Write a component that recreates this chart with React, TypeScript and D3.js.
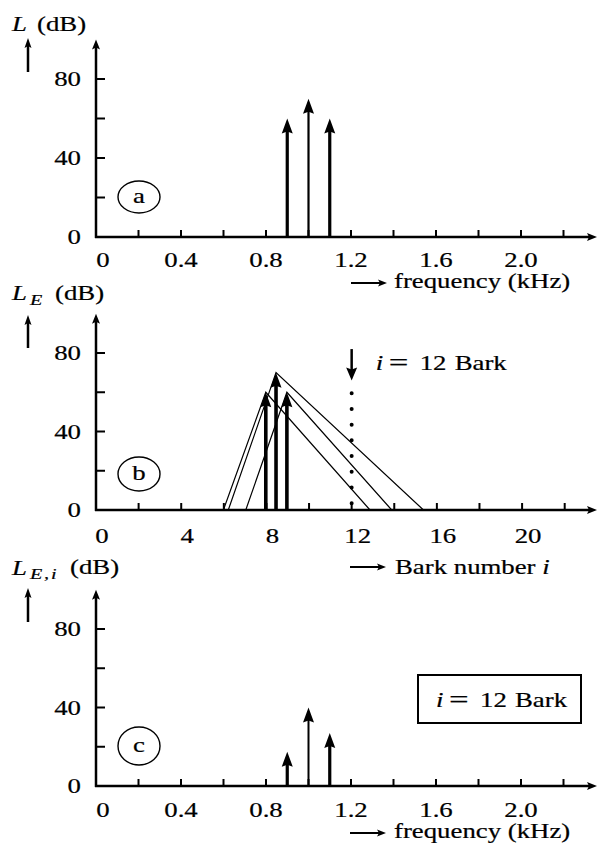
import React from "react";
import * as d3 from "d3";

const FONT = "'Liberation Serif', 'Times New Roman', serif";
const FONT_SIZE = 20;
const STRETCH = 1.34;

// Three test tones
const toneFreqKHz = [0.9, 1.0, 1.1];
const toneLevelDb = [60, 70, 60];
// The same tones on the critical-band-rate scale
const toneBark = [7.97, 8.45, 8.96];
// Excitation pattern: where the lower slope starts and the upper slope ends (Bark)
const lowerFootBark = [5.98, 6.21, 7.03];
const upperFootBark = [12.86, 15.37, 13.88];
// Excitation produced by each tone in the selected critical band
const selectedBark = 12;
const excitationAtSelected = [17.5, 40, 27];

// Axis ticks
const levelTicks = [0, 20, 40, 60, 80];
const levelTickLabels = ["0", "40", "80"];
const freqTicks = [0, 0.2, 0.4, 0.6, 0.8, 1.0, 1.2, 1.4, 1.6, 1.8, 2.0, 2.2];
const freqTickLabels = ["0", "0.4", "0.8", "1.2", "1.6", "2.0"];
const barkTicks = [0, 2, 4, 6, 8, 10, 12, 14, 16, 18, 20, 22];
const barkTickLabels = ["0", "4", "8", "12", "16", "20"];
const levelAxisTop = 100;

const X0 = 96;
const X_END = 597;

const freqScale = d3.scaleLinear().domain([0, 2.2]).range([X0, 563.5]);
const barkScale = d3.scaleLinear().domain([0, 22]).range([X0, 564.7]);
const levelA = d3.scaleLinear().domain([0, 80]).range([237, 79]);
const levelB = d3.scaleLinear().domain([0, 80]).range([510, 353]);
const levelC = d3.scaleLinear().domain([0, 80]).range([786, 629]);

type TxtProps = {
  x: number;
  y: number;
  anchor?: "start" | "middle" | "end";
  size?: number;
  italic?: boolean;
  children: React.ReactNode;
};

function Txt({ x, y, anchor = "start", size = FONT_SIZE, italic = false, children }: TxtProps) {
  return (
    <text
      transform={`translate(${x},${y}) scale(${STRETCH},1)`}
      textAnchor={anchor}
      fontSize={size}
      fontStyle={italic ? "italic" : "normal"}
      fontFamily={FONT}
      fill="#000"
      stroke="#000"
      strokeWidth={0.2}
    >
      {children}
    </text>
  );
}

function UpHead({ x, y, hw = 5.5, h = 15 }: { x: number; y: number; hw?: number; h?: number }) {
  return <path d={`M${x},${y} L${x + hw},${y + h} L${x},${y + h - 2} L${x - hw},${y + h} Z`} fill="#000" />;
}

function DownHead({ x, y, hw = 5.5, h = 13 }: { x: number; y: number; hw?: number; h?: number }) {
  return <path d={`M${x},${y} L${x + hw},${y - h} L${x},${y - h + 2} L${x - hw},${y - h} Z`} fill="#000" />;
}

function RightHead({ x, y, hw = 4, h = 10 }: { x: number; y: number; hw?: number; h?: number }) {
  return <path d={`M${x},${y} L${x - h},${y - hw} L${x - h + 2},${y} L${x - h},${y + hw} Z`} fill="#000" />;
}

function Stem({ x, y0, y1, w }: { x: number; y0: number; y1: number; w: number }) {
  return (
    <g>
      <line x1={x} x2={x} y1={y0} y2={y1 + 10} stroke="#000" strokeWidth={w} />
      <UpHead x={x} y={y1} />
    </g>
  );
}

type AxesProps = {
  yScale: d3.ScaleLinear<number, number>;
  xScale: d3.ScaleLinear<number, number>;
  xTicks: number[];
  xTickLabels: string[];
  labelDx: (label: string) => number;
  labelBaseline: number;
};

function Axes({ yScale, xScale, xTicks, xTickLabels, labelDx, labelBaseline }: AxesProps) {
  const y0 = yScale(0);
  const yTop = yScale(levelAxisTop);
  return (
    <g>
      {/* level axis */}
      <line x1={X0} x2={X0} y1={y0 + 1} y2={yTop + 6} stroke="#000" strokeWidth={2.5} />
      <UpHead x={X0} y={yTop} hw={4} h={10} />
      {levelTicks.map((t) => (
        <line key={t} x1={X0} x2={X0 + 9} y1={yScale(t)} y2={yScale(t)} stroke="#000" strokeWidth={2} />
      ))}
      {levelTickLabels.map((l) => (
        <Txt key={l} x={81} y={yScale(+l) + 7} anchor="end">
          {l}
        </Txt>
      ))}
      {/* horizontal axis */}
      <line x1={X0 - 1} x2={X_END - 5} y1={y0} y2={y0} stroke="#000" strokeWidth={2.5} />
      <RightHead x={X_END} y={y0} />
      {xTicks.map((t) => (
        <line key={t} x1={xScale(t)} x2={xScale(t)} y1={y0} y2={y0 - 7} stroke="#000" strokeWidth={2} />
      ))}
      {xTickLabels.map((l) => (
        <Txt key={l} x={xScale(+l) + labelDx(l)} y={y0 + labelBaseline} anchor="middle">
          {l}
        </Txt>
      ))}
    </g>
  );
}

function AxisTitleArrow({ x1, x2, y }: { x1: number; x2: number; y: number }) {
  return (
    <g>
      <line x1={x1} x2={x2 - 6} y1={y} y2={y} stroke="#000" strokeWidth={2} />
      <RightHead x={x2} y={y} hw={3.5} h={9} />
    </g>
  );
}

function YTitleArrow({ x, yTop, yBottom }: { x: number; yTop: number; yBottom: number }) {
  return (
    <g>
      <line x1={x} x2={x} y1={yBottom} y2={yTop + 6} stroke="#000" strokeWidth={2.5} />
      <UpHead x={x} y={yTop} hw={3.5} h={10} />
    </g>
  );
}

function PanelTag({ cx, cy, rx, ry, letter }: { cx: number; cy: number; rx: number; ry: number; letter: string }) {
  return (
    <g>
      <ellipse cx={cx} cy={cy} rx={rx} ry={ry} fill="none" stroke="#000" strokeWidth={1.4} />
      <Txt x={cx} y={cy + 6} anchor="middle">
        {letter}
      </Txt>
    </g>
  );
}

function BarkNote({ x, y }: { x: number; y: number }) {
  return (
    <g>
      <Txt x={x} y={y} italic>
        i
      </Txt>
      <Txt x={x + 13} y={y + 1} size={26}>
        =
      </Txt>
      <Txt x={x + 44} y={y}>
        12
      </Txt>
      <Txt x={x + 79} y={y}>
        Bark
      </Txt>
    </g>
  );
}

export default function App() {
  const stemWidthsThin = [3.2, 2.2, 3.2];
  const pattern = d3
    .line<[number, number]>()
    .x((d) => barkScale(d[0]))
    .y((d) => levelB(d[1]));

  const xSel = barkScale(selectedBark);

  return (
    <svg
      width={601}
      height={845}
      viewBox="0 0 601 845"
      style={{ position: "absolute", left: 0, top: 0, background: "#fff" }}
    >
      <rect x={0} y={0} width={601} height={845} fill="#fff" />

      {/* (a) spectrum of the three tones */}
      <g>
        <Txt x={12} y={31} italic>
          L
        </Txt>
        <Txt x={37} y={31}>
          (dB)
        </Txt>
        <YTitleArrow x={28} yTop={38} yBottom={72} />
        <Axes
          yScale={levelA}
          xScale={freqScale}
          xTicks={freqTicks}
          xTickLabels={freqTickLabels}
          labelDx={(l) => (l === "0" ? 7 : 0)}
          labelBaseline={30}
        />
        <PanelTag cx={139} cy={197} rx={21} ry={16} letter="a" />
        {toneFreqKHz.map((f, i) => (
          <Stem key={f} x={freqScale(f)} y0={levelA(0)} y1={levelA(toneLevelDb[i])} w={stemWidthsThin[i]} />
        ))}
        <AxisTitleArrow x1={351} x2={387} y={283} />
        <Txt x={394} y={288}>
          frequency (kHz)
        </Txt>
      </g>

      {/* (b) excitation patterns over critical-band rate */}
      <g>
        <Txt x={12} y={300} italic>
          L
        </Txt>
        <Txt x={30} y={305} size={15} italic>
          E
        </Txt>
        <Txt x={55} y={300}>
          (dB)
        </Txt>
        <YTitleArrow x={28} yTop={315} yBottom={348} />
        <Axes
          yScale={levelB}
          xScale={barkScale}
          xTicks={barkTicks}
          xTickLabels={barkTickLabels}
          labelDx={() => 6}
          labelBaseline={33}
        />
        <PanelTag cx={139} cy={474} rx={21} ry={17} letter="b" />
        {toneBark.map((b, i) => (
          <path
            key={`p${b}`}
            d={
              pattern([
                [lowerFootBark[i], 0],
                [b, toneLevelDb[i]],
                [upperFootBark[i], 0],
              ]) ?? ""
            }
            fill="none"
            stroke="#000"
            strokeWidth={1.2}
          />
        ))}
        {toneBark.map((b, i) => (
          <Stem key={b} x={barkScale(b)} y0={levelB(0)} y1={levelB(toneLevelDb[i])} w={3.6} />
        ))}
        <line
          x1={xSel}
          x2={xSel}
          y1={levelB(3.5)}
          y2={levelB(61)}
          stroke="#000"
          strokeWidth={4}
          strokeLinecap="round"
          strokeDasharray="0 15.7"
        />
        <line x1={xSel} x2={xSel} y1={levelB(82)} y2={levelB(66) - 8} stroke="#000" strokeWidth={2.5} />
        <DownHead x={xSel} y={levelB(66)} />
        <BarkNote x={xSel + 24} y={370} />
        <AxisTitleArrow x1={350} x2={386} y={567} />
        <Txt x={395} y={574}>
          Bark number <tspan fontStyle="italic">i</tspan>
        </Txt>
      </g>

      {/* (c) contributions within the selected critical band */}
      <g>
        <Txt x={12} y={575} italic>
          L
        </Txt>
        <Txt x={30} y={579} size={15} italic>
          E
        </Txt>
        <Txt x={44} y={579} size={15}>
          ,
        </Txt>
        <Txt x={51} y={579} size={15} italic>
          i
        </Txt>
        <Txt x={70} y={574}>
          (dB)
        </Txt>
        <YTitleArrow x={28} yTop={588} yBottom={622} />
        <Axes
          yScale={levelC}
          xScale={freqScale}
          xTicks={freqTicks}
          xTickLabels={freqTickLabels}
          labelDx={(l) => (l === "0" ? 7 : 0)}
          labelBaseline={31}
        />
        <PanelTag cx={139} cy={746} rx={21} ry={19} letter="c" />
        {toneFreqKHz.map((f, i) => (
          <Stem
            key={f}
            x={freqScale(f)}
            y0={levelC(0)}
            y1={levelC(excitationAtSelected[i])}
            w={[3.2, 2, 3.2][i]}
          />
        ))}
        <rect x={418} y={675} width={163} height={48} fill="none" stroke="#000" strokeWidth={2} />
        <BarkNote x={436} y={707} />
        <AxisTitleArrow x1={350} x2={386} y={833} />
        <Txt x={394} y={838}>
          frequency (kHz)
        </Txt>
      </g>
    </svg>
  );
}
